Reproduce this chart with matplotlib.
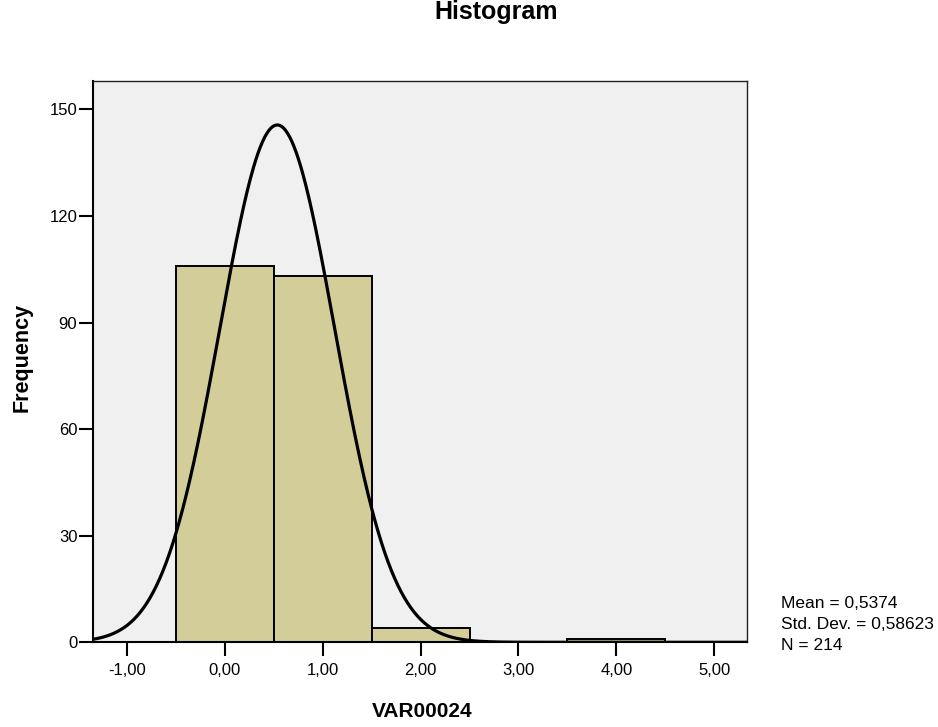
import matplotlib.pyplot as plt
import numpy as np

# Data
bin_centers = [0, 1, 2, 3, 4, 5]
counts = [106, 103, 4, 0, 1, 0]
mean = 0.5374
std_dev = 0.58623
n_total = 214
bin_width = 1.0

x_ticks = [-1, 0, 1, 2, 3, 4, 5]
x_tick_labels = ["-1,00", "0,00", "1,00", "2,00", "3,00", "4,00", "5,00"]
y_ticks = [0, 30, 60, 90, 120, 150]
stats_lines = ["Mean = 0,5374", "Std. Dev. = 0,58623", "N = 214"]

plt.rcParams['font.family'] = ['Liberation Sans', 'DejaVu Sans']

fig = plt.figure(figsize=(9.38, 7.27), dpi=100)
ax = fig.add_axes([0.0995, 0.1165, 0.6966, 0.772])
ax.set_facecolor('#F0F0F0')

# Bars
ax.bar(bin_centers, counts, width=bin_width, color='#D3CE99',
       edgecolor='black', linewidth=1.4, zorder=2)

# Normal curve
xlim = (-1.34, 5.33)
xs = np.linspace(xlim[0], xlim[1], 600)
ys = n_total * bin_width / (std_dev * np.sqrt(2 * np.pi)) * np.exp(-0.5 * ((xs - mean) / std_dev) ** 2)
ax.plot(xs, ys, color='black', linewidth=2.3, zorder=3)

ax.set_xlim(*xlim)
ax.set_ylim(0, 158)
ax.set_xticks(x_ticks)
ax.set_xticklabels(x_tick_labels)
ax.set_yticks(y_ticks)
ax.tick_params(axis='both', direction='out', length=10, width=1.5, labelsize=12)
ax.tick_params(axis='x', pad=5)
ax.tick_params(axis='y', pad=1.5)

for side in ['left', 'bottom']:
    ax.spines[side].set_linewidth(1.5)
for side in ['top', 'right']:
    ax.spines[side].set_linewidth(1.0)
    ax.spines[side].set_color('#222222')

ax.set_xlabel('VAR00024', fontsize=15, fontweight='bold', va='baseline')
ax.xaxis.set_label_coords(0.504, -0.133)
ax.set_ylabel('Frequency', fontsize=15.5, fontweight='bold')
ax.yaxis.set_label_coords(-0.093, 0.508)

fig.text(496 / 938, 1 - 19 / 727, 'Histogram', fontsize=18, fontweight='bold',
         ha='center', va='baseline')

for i, line in enumerate(stats_lines):
    fig.text(781 / 938, 1 - (608 + 21 * i) / 727, line, fontsize=12.5,
             ha='left', va='baseline')

fig.savefig('out.png', dpi=100)
